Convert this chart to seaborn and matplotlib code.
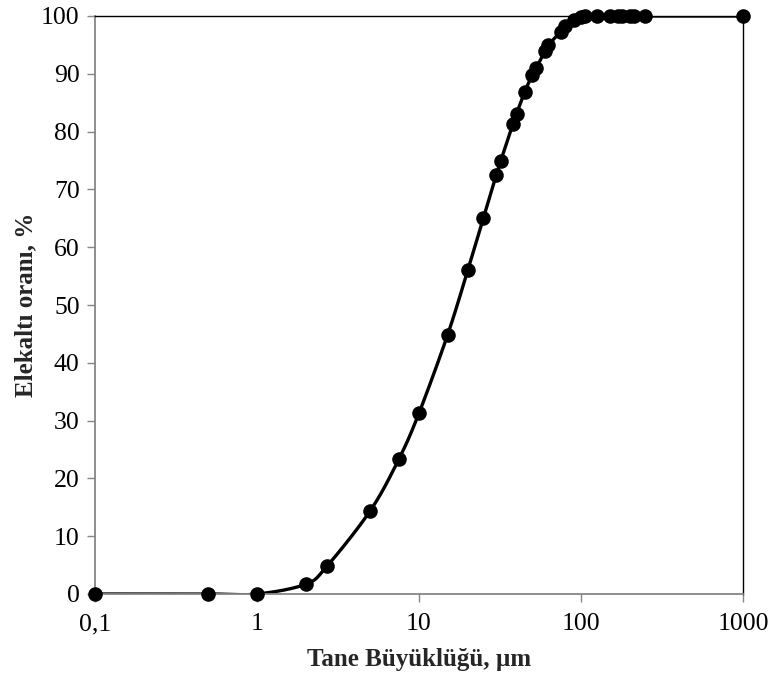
import numpy as np
import pandas as pd
import matplotlib
matplotlib.use("Agg")
import matplotlib.pyplot as plt
from matplotlib.ticker import FixedLocator, FuncFormatter
import seaborn as sns

# particle size (um) and cumulative passing (%)
sizes = [0.1, 0.5, 1, 2, 2.7, 5, 7.5, 10, 15, 20, 25, 30, 32, 38, 40, 45, 50,
         53, 60, 63, 75, 80, 90, 100, 106, 125, 150, 170, 180, 200, 212, 250, 1000]
passing = [0, 0, 0, 1.7, 4.8, 14.4, 23.3, 31.3, 44.8, 56.0, 65.1, 72.5, 75.0,
           81.3, 83.1, 86.9, 89.8, 91.0, 94.0, 95.0, 97.3, 98.2, 99.3, 99.8,
           100, 100, 100, 100, 100, 100, 100, 100, 100]
x_ticks = [0.1, 1, 10, 100, 1000]
x_tick_labels = ["0,1", "1", "10", "100", "1000"]
y_ticks = list(range(0, 101, 10))


def smooth_curve(xs, ys, n=30):
    """Excel-like smoothed line: Catmull-Rom Bezier in screen-like units."""
    u = np.log10(xs) * 162.0
    v = np.asarray(ys, dtype=float) * 5.78
    P = np.column_stack([u, v])
    P = np.vstack([P[0], P, P[-1]])
    out = []
    for i in range(1, len(P) - 2):
        p0, p1, p2, p3 = P[i - 1], P[i], P[i + 1], P[i + 2]
        c1 = p1 + (p2 - p0) / 6.0
        c2 = p2 - (p3 - p1) / 6.0
        t = np.linspace(0, 1, n)[:, None]
        seg = ((1 - t) ** 3) * p1 + 3 * ((1 - t) ** 2) * t * c1 \
            + 3 * (1 - t) * t ** 2 * c2 + t ** 3 * p2
        out.append(seg if i == 1 else seg[1:])
    seg = np.vstack(out)
    return 10 ** (seg[:, 0] / 162.0), seg[:, 1] / 5.78


sx, sy = smooth_curve(sizes, passing)
curve = pd.DataFrame({"size": sx, "pass": sy})
pts = pd.DataFrame({"size": sizes, "pass": passing})

sns.set_style("white")
plt.rcParams["font.family"] = ["Liberation Serif", "DejaVu Serif"]

fig = plt.figure(figsize=(7.73, 6.82), dpi=100)
ax = fig.add_axes([95 / 773, 1 - 594 / 682, 648 / 773, 578 / 682])

sns.lineplot(data=curve, x="size", y="pass", sort=False, estimator=None,
             color="black", lw=2.4, ax=ax)
sns.scatterplot(data=pts, x="size", y="pass", color="black", s=110,
                edgecolor="black", linewidth=0, ax=ax, zorder=3, clip_on=False)

ax.set_xscale("log")
ax.set_xlim(0.1, 1000)
ax.set_ylim(0, 100)
ax.xaxis.set_major_locator(FixedLocator(x_ticks))
ax.xaxis.set_minor_locator(FixedLocator([]))
ax.xaxis.set_major_formatter(FuncFormatter(lambda v, p: x_tick_labels[x_ticks.index(v)] if v in x_ticks else ""))
ax.set_yticks(y_ticks)

gray = "#868686"
for s in ["left", "bottom"]:
    ax.spines[s].set_color(gray)
    ax.spines[s].set_linewidth(1.3)
for s in ["top", "right"]:
    ax.spines[s].set_color("black")
    ax.spines[s].set_linewidth(1.0)
ax.tick_params(axis="both", which="major", direction="out", length=6,
               width=1.0, color=gray, labelsize=18.5, labelcolor="black",
               left=True, bottom=True)
ax.tick_params(axis="x", pad=8)
ax.tick_params(axis="y", pad=5)

ax.set_xlabel("Tane Büyüklüğü, µm", fontsize=18, fontweight="bold", labelpad=9)
ax.set_ylabel("Elekaltı oranı, %", fontsize=18, fontweight="bold", labelpad=3)
ax.grid(False)

fig.savefig("out.png", dpi=100)
